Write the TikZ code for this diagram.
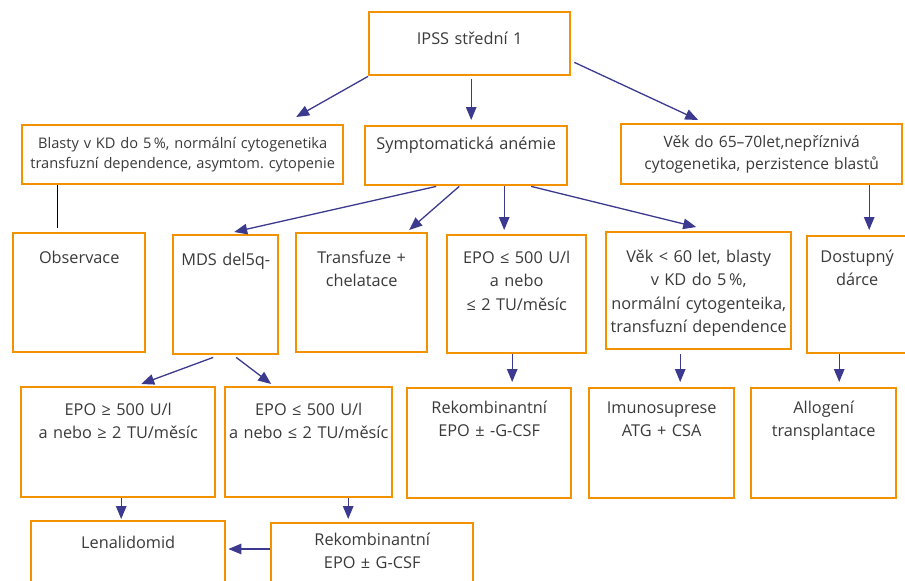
\documentclass[tikz,border=0pt]{standalone}
\usepackage{fontspec}
\setmainfont{Open Sans}
\frenchspacing
\usetikzlibrary{arrows.meta}
\definecolor{mdsorange}{HTML}{F39200}
\definecolor{mdsblue}{HTML}{3C3A8E}
\definecolor{mdstext}{HTML}{3A3A3A}

\begin{document}
\begin{tikzpicture}[x=1pt, y=-1pt,
        box/.style={draw=mdsorange, line width=2.4pt, fill=white, anchor=north west,
                    align=center, inner sep=0pt, text=mdstext,
                    font=\fontsize{16.3}{23.5}\selectfont},
        arrow/.style={-{Triangle[length=13pt,width=10.5pt]}, draw=mdsblue, line width=1.3pt},
        plain/.style={draw=black, line width=1pt}
      ]
        \fill[white] (0,0) rectangle (905,581);
        \useasboundingbox (0,0) rectangle (905,581);
        \clip (0,0) rectangle (905,581);

        % top and first level
        \node[box, text width=201pt, text height=32pt, text depth=31pt] (ipss) at (368,11) {IPSS střední 1};
        \node[box, text width=321pt, text height=23pt, text depth=36pt,
              font=\fontsize{14.6}{20}\selectfont] (blasty) at (21,124)
          {Blasty v KD do 5\,\%, normální cytogenetika\\transfuzní dependence, asymtom. cytopenie};
        \node[box, text width=202pt, text height=23pt, text depth=36pt] (sympt) at (364,125) {Symptomatická anémie};
        \node[box, text width=281pt, text height=23pt, text depth=37pt,
              font=\fontsize{15.6}{22.5}\selectfont] (vek65) at (620,123)
          {Věk do 65–70let,nepříznivá\\cytogenetika, perzistence blastů};

        % second level
        \node[box, text width=132pt, text height=30pt, text depth=89pt] (obs)   at (12,232)  {Observace};
        \node[box, text width=105pt, text height=30pt, text depth=89pt] (mds)   at (172,234) {MDS del5q-};
        \node[box, text width=131pt, text height=30pt, text depth=89pt] (trans) at (295,232) {Transfuze +\\chelatace};
        \node[box, text width=139pt, text height=28pt, text depth=90pt] (epo1)  at (446,234) {EPO ≤ 500 U/l\\a nebo\\≤ 2 TU/měsíc};
        \node[box, text width=185pt, text height=30pt, text depth=87pt] (vek60) at (605,231)
          {Věk < 60 let, blasty\\v KD do 5\,\%,\\normální cytogenteika,\\transfuzní dependence};
        \node[box, text width=100pt, text height=26pt, text depth=91pt] (dost)  at (806,235) {Dostupný\\dárce};

        % third level
        \node[box, text width=194pt, text height=28pt, text depth=82pt] (epo2) at (20,386)  {EPO ≥ 500 U/l\\a nebo ≥ 2 TU/měsíc};
        \node[box, text width=167pt, text height=28pt, text depth=82pt] (epo3) at (224,386) {EPO ≤ 500 U/l\\a nebo ≤ 2 TU/měsíc};
        \node[box, text width=164pt, text height=25pt, text depth=85pt] (rek1) at (406,387) {Rekombinantní\\EPO ± -G-CSF};
        \node[box, text width=145pt, text height=25pt, text depth=85pt] (imu)  at (588,387) {Imunosuprese\\ATG + CSA};
        \node[box, text width=145pt, text height=25pt, text depth=85pt] (allo) at (750,387) {Allogení\\transplantace};

        % bottom level
        \node[box, text width=194pt, text height=27pt, text depth=53pt] (lena) at (30,520)  {Lenalidomid};
        \node[box, text width=202pt, text height=22pt, text depth=58pt] (rek2) at (270,522) {Rekombinantní\\EPO ± G-CSF};

        \draw[arrow] (ipss.south west) -- ([xshift=113.5pt,yshift=7pt]blasty.north);
        \draw[arrow] ([xshift=1.5pt,yshift=-3pt]ipss.south) -- ([xshift=5pt,yshift=5pt]sympt.north);
        \draw[arrow] ([xshift=3pt,yshift=14pt]ipss.south east) -- ([xshift=-63.5pt,yshift=3pt]vek65.north);
        \draw[plain] ([xshift=36pt]blasty.south west) -- ([xshift=45pt,yshift=4pt]obs.north west);

        \draw[arrow] ([xshift=-30pt]sympt.south) -- ([xshift=8.5pt,yshift=2pt]mds.north);
        \draw[arrow] ([xshift=-7pt]sympt.south) -- ([xshift=47.5pt,yshift=2pt]trans.north);
        \draw[arrow] ([xshift=38pt]sympt.south) -- ([xshift=-12.5pt,yshift=4pt]epo1.north);
        \draw[arrow] ([xshift=65pt]sympt.south) -- ([xshift=-2.5pt,yshift=4pt]vek60.north);
        \draw[arrow] ([xshift=107.5pt]vek65.south) -- ([xshift=12pt,yshift=5pt]dost.north);

        \draw[arrow] ([xshift=-12.5pt,yshift=-2pt]mds.south) -- ([xshift=23pt,yshift=2pt]epo2.north);
        \draw[arrow] ([xshift=10.5pt,yshift=-2pt]mds.south) -- ([xshift=-37.5pt,yshift=2pt]epo3.north);
        \draw[arrow] ([xshift=-4.5pt]epo1.south) -- ([xshift=23pt,yshift=5pt]rek1.north);
        \draw[arrow] ([xshift=-18.5pt,yshift=-4pt]vek60.south) -- ([xshift=18.5pt,yshift=5pt]imu.north);
        \draw[arrow] ([xshift=-18pt]dost.south) -- ([xshift=15.5pt,yshift=5pt]allo.north);

        \draw[arrow] ([xshift=3pt]epo2.south) -- ([xshift=-7pt,yshift=1pt]lena.north);
        \draw[arrow] ([xshift=39.5pt]epo3.south) -- ([xshift=-24pt,yshift=3pt]rek2.north);
        \draw[arrow] ([yshift=-27pt]rek2.north west) -- ([xshift=2pt,yshift=-29pt]lena.north east);
      \end{tikzpicture}
\end{document}
